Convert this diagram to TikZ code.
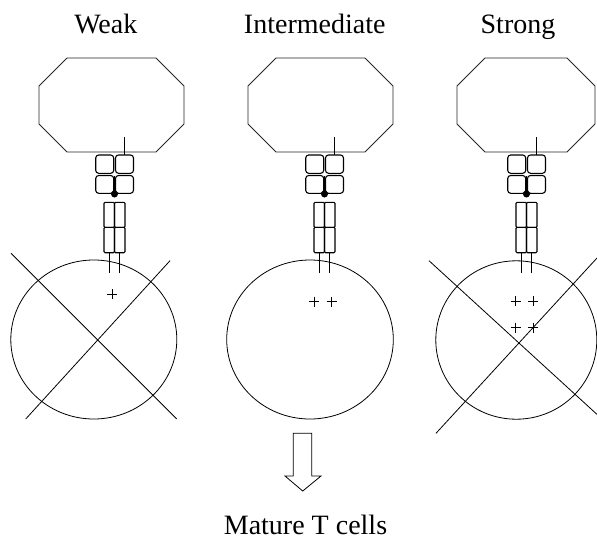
\documentclass[tikz,border=0pt]{standalone}
\usepackage{fontspec}
\setmainfont{Liberation Serif}
\begin{document}
\begin{tikzpicture}[x=1pt,y=-1pt,
  apc/.style={line width=0.8pt, draw=black!85},
  cell/.style={line width=0.8pt},
  chainbox/.style={line width=1.1pt, rounded corners=3pt},
  tcrbox/.style={line width=1.1pt, rounded corners=1pt},
  stalk/.style={line width=1.1pt},
  groove/.style={line width=0.8pt},
  crossout/.style={line width=0.8pt},
  plussign/.style={line width=0.8pt},
  caption/.style={font=\fontsize{28}{32}\selectfont, anchor=base, inner sep=0pt}]
\useasboundingbox (0,0) rectangle (597,541);

% column headings
\node[caption] (tweak)   at (105.8,33) {Weak};
\node[caption] (tinter)  at (314.7,33) {Intermediate};
\node[caption] (tstrong) at (518,33)   {Strong};

% antigen-presenting cell, MHC chains and T-cell receptor for each column
\foreach \name/\L/\R/\c in {weak/39/184/114.5, inter/248/393/324.5, strong/457/595/526.5}{
  % presenting cell (octagon)
  \draw[apc] ({\L+28},58) -- ({\R-28},58) -- (\R,86) -- (\R,124) -- ({\R-28},152)
    -- ({\L+28},152) -- (\L,124) -- (\L,86) -- cycle;
  % MHC anchor
  \coordinate (\name-anchor) at ({\c+10},137);
  \coordinate (\name-mhctop) at ({\c+10},155);
  \draw[stalk] (\name-anchor) -- (\name-mhctop);
  % four MHC domains
  \draw[chainbox] ({\c-18.8},155) rectangle ({\c-0.8},173.3);
  \draw[chainbox] ({\c+1},155) rectangle ({\c+19},173.3);
  \draw[chainbox] ({\c-18.8},175.5) rectangle ({\c-0.8},193.3);
  \draw[chainbox] ({\c+1},175.5) rectangle ({\c+19},193.3);
  % bound peptide
  \coordinate (\name-groove) at (\c,176);
  \coordinate (\name-pep) at (\c,194);
  \draw[groove] (\name-groove) -- (\name-pep);
  \fill (\name-pep) circle (3.5);
  % T-cell receptor chains
  \draw[tcrbox] ({\c-10.5},202.3) rectangle (\c,227.3);
  \draw[tcrbox] (\c,202.3) rectangle ({\c+10.5},227.3);
  \draw[tcrbox] ({\c-10.5},227.3) rectangle (\c,252.7);
  \draw[tcrbox] (\c,227.3) rectangle ({\c+10.5},252.7);
  \draw[stalk] ({\c-5},252.7) -- ({\c-5},273.3);
  \draw[stalk] ({\c+5},252.7) -- ({\c+5},273.3);
}

% thymocytes
\draw[cell] (93.8,339.5) ellipse [x radius=83, y radius=79.5];
\draw[cell] (310,339.5) ellipse [x radius=83.3, y radius=79.5];
\draw[cell] (516.3,340) ellipse [x radius=80.5, y radius=79.2];

% signal strength marks
\draw[plussign] (107.3,294.3) -- (117.3,294.3) (112.3,289.3) -- (112.3,299.3);
\foreach \px/\py in {314.3/301.7, 331.7/301.7, 515.7/301, 533.3/301, 515.7/327.7, 533.3/327.7}{
  \draw[plussign] ({\px-5},\py) -- ({\px+5},\py) (\px,{\py-5}) -- (\px,{\py+5});
}

% deleted cells crossed out
\draw[crossout] (11,253.3) -- (176.7,419);
\draw[crossout] (170,260.7) -- (25.7,419);
\draw[crossout] (429,260.7) -- (597,414.4);
\draw[crossout] (436,433.3) -- (597,258);

% maturation arrow and outcome
\draw[line width=0.8pt, line join=miter] (293.3,433.3) -- (293.3,476) -- (285,476) -- (302.7,491)
  -- (321,476) -- (311.7,476) -- (311.7,433.3) -- cycle;
\node[caption] (mature) at (305.5,534) {Mature T cells};
\end{tikzpicture}
\end{document}
